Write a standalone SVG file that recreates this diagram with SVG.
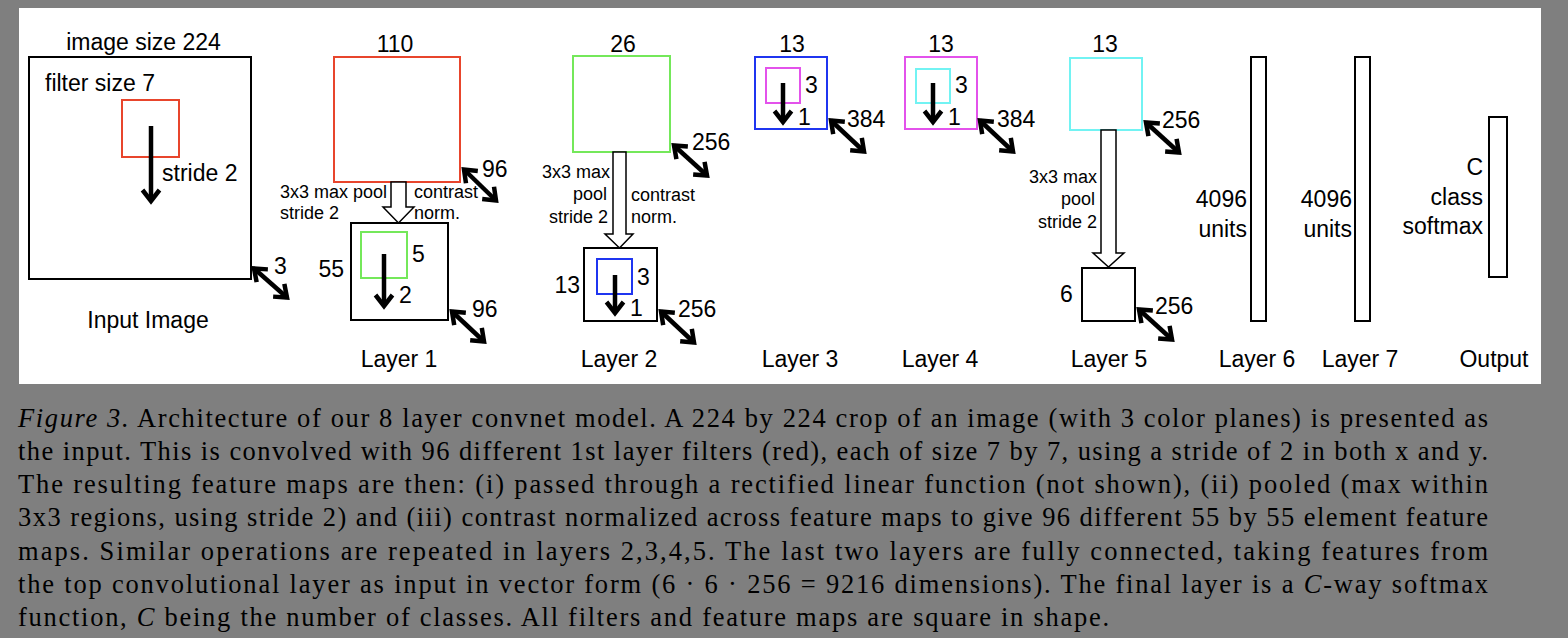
<svg xmlns="http://www.w3.org/2000/svg" width="1568" height="638" viewBox="0 0 1568 638">
<style>
.lb{font-family:"Liberation Sans",Arial,sans-serif;font-size:23px;fill:#000}
.sm{font-family:"Liberation Sans",Arial,sans-serif;font-size:18px;fill:#000}
.cap{font-family:"Liberation Serif","Times New Roman",serif;font-size:26.5px;fill:#000}
.m{text-anchor:middle}
.e{text-anchor:end}
.bx{fill:none;stroke:#000;stroke-width:2}
.fl{fill:none;stroke-width:2}
.arr{stroke:#000;stroke-width:4.5;fill:none;marker-end:url(#hd)}
.dbl{stroke:#000;stroke-width:4.5;fill:none;marker-end:url(#hd);marker-start:url(#hd)}
.blk{fill:#fff;stroke:#000;stroke-width:1.5;stroke-linejoin:miter}
</style>
<defs>
<marker id="hd" markerUnits="userSpaceOnUse" markerWidth="40" markerHeight="40" viewBox="-20 -20 40 40" refX="0" refY="0" orient="auto-start-reverse" overflow="visible">
<path d="M-11,-8.5 L0,0 L-11,8.5" fill="none" stroke="#000" stroke-width="4.5"/>
</marker>
</defs>
<rect x="0" y="0" width="1568" height="638" fill="#7f7f7f"/>
<rect x="19" y="8" width="1522" height="376" fill="#fff"/>

<g id="input">
<rect class="bx" x="29" y="57" width="222" height="222"/>
<rect class="fl" x="122" y="100" width="57" height="57" stroke="#e8452c"/>
<text class="lb m" x="143.5" y="50">image size 224</text>
<text class="lb" x="45" y="91">filter size 7</text>
<text class="lb" x="162" y="181">stride 2</text>
<text class="lb" x="274" y="274">3</text>
<text class="lb m" x="148" y="328">Input Image</text>
</g>

<g id="layer1-conv">
<rect class="fl" x="334" y="57" width="126" height="125" stroke="#e8452c"/>
<text class="lb m" x="395" y="52">110</text>
<text class="lb" x="482" y="177">96</text>
<text class="sm" x="280" y="198">3x3 max pool</text>
<text class="sm" x="280" y="219">stride 2</text>
<text class="sm" x="414" y="198">contrast</text>
<text class="sm" x="414" y="219">norm.</text>
</g>

<g id="layer1">
<rect class="bx" x="351" y="223" width="97" height="97"/>
<rect class="fl" x="361" y="232" width="46" height="46" stroke="#74e85a"/>
<text class="lb e" x="344" y="277">55</text>
<text class="lb" x="412" y="262">5</text>
<text class="lb" x="399" y="303">2</text>
<text class="lb" x="472" y="317">96</text>
<text class="lb m" x="399" y="367">Layer 1</text>
</g>

<g id="layer2-conv">
<rect class="fl" x="573" y="56" width="97" height="96" stroke="#74e85a"/>
<text class="lb m" x="623" y="52">26</text>
<text class="lb" x="692" y="150">256</text>
<text class="sm e" x="610" y="178">3x3 max</text>
<text class="sm e" x="607" y="200">pool</text>
<text class="sm e" x="608" y="223">stride 2</text>
<text class="sm" x="631" y="201">contrast</text>
<text class="sm" x="631" y="223">norm.</text>
</g>

<g id="layer2">
<rect class="bx" x="584" y="248" width="73" height="73"/>
<rect class="fl" x="597" y="259" width="35" height="35" stroke="#1f35f0"/>
<text class="lb e" x="580" y="293">13</text>
<text class="lb" x="637" y="285">3</text>
<text class="lb" x="630" y="316">1</text>
<text class="lb" x="678" y="317">256</text>
<text class="lb m" x="619" y="367">Layer 2</text>
</g>

<g id="layer3">
<rect class="fl" x="755" y="57" width="72" height="72" stroke="#1f35f0"/>
<rect class="fl" x="766" y="68" width="34" height="35" stroke="#e352eb"/>
<text class="lb m" x="792" y="52">13</text>
<text class="lb" x="805" y="93">3</text>
<text class="lb" x="798" y="125">1</text>
<text class="lb" x="847" y="127">384</text>
<text class="lb m" x="800" y="367">Layer 3</text>
</g>

<g id="layer4">
<rect class="fl" x="905" y="57" width="72" height="72" stroke="#e352eb"/>
<rect class="fl" x="916" y="69" width="34" height="34" stroke="#72f3f3"/>
<text class="lb m" x="941" y="52">13</text>
<text class="lb" x="955" y="93">3</text>
<text class="lb" x="948" y="125">1</text>
<text class="lb" x="997" y="127">384</text>
<text class="lb m" x="940" y="367">Layer 4</text>
</g>

<g id="layer5-conv">
<rect class="fl" x="1070" y="58" width="72" height="72" stroke="#72f3f3"/>
<text class="lb m" x="1105" y="52">13</text>
<text class="lb" x="1162" y="128">256</text>
<text class="sm e" x="1097" y="183">3x3 max</text>
<text class="sm e" x="1095" y="205">pool</text>
<text class="sm e" x="1097" y="228">stride 2</text>
</g>

<g id="layer5">
<rect class="bx" x="1082" y="268" width="53" height="53"/>
<text class="lb" x="1060" y="302">6</text>
<text class="lb" x="1155" y="314">256</text>
<text class="lb m" x="1109" y="367">Layer 5</text>
</g>

<g id="layer6">
<rect class="bx" x="1251" y="57" width="15" height="264"/>
<text class="lb e" x="1247" y="207">4096</text>
<text class="lb e" x="1247" y="237">units</text>
<text class="lb m" x="1257" y="367">Layer 6</text>
</g>

<g id="layer7">
<rect class="bx" x="1355" y="57" width="15" height="264"/>
<text class="lb e" x="1352" y="207">4096</text>
<text class="lb e" x="1352" y="237">units</text>
<text class="lb m" x="1360" y="367">Layer 7</text>
</g>

<g id="output">
<rect class="bx" x="1489" y="117" width="18" height="160"/>
<text class="lb e" x="1483" y="175">C</text>
<text class="lb e" x="1483" y="205">class</text>
<text class="lb e" x="1483" y="234">softmax</text>
<text class="lb m" x="1494" y="367">Output</text>
</g>

<g id="connectors">
<line class="arr" x1="151" y1="126" x2="151" y2="201"/>
<line class="arr" x1="384" y1="254" x2="384" y2="306"/>
<line class="arr" x1="615" y1="275" x2="615" y2="313"/>
<line class="arr" x1="783" y1="83" x2="783" y2="122"/>
<line class="arr" x1="933" y1="83" x2="933" y2="122"/>
<line class="dbl" x1="254" y1="268.5" x2="287" y2="297.5"/>
<line class="dbl" x1="464" y1="169.5" x2="496" y2="200.5"/>
<line class="dbl" x1="452" y1="311.5" x2="484" y2="341.5"/>
<line class="dbl" x1="674" y1="145.5" x2="707" y2="175.5"/>
<line class="dbl" x1="661" y1="311.5" x2="694" y2="342.5"/>
<line class="dbl" x1="831" y1="120.5" x2="864" y2="151.5"/>
<line class="dbl" x1="980" y1="120.5" x2="1013" y2="151.5"/>
<line class="dbl" x1="1146" y1="122.5" x2="1179" y2="152.5"/>
<line class="dbl" x1="1139" y1="309.5" x2="1172" y2="339.5"/>
<path class="blk" d="M391,182 L406,182 L406,207 L414,207 L398.5,223 L383,207 L391,207 Z"/>
<path class="blk" d="M613,152 L626,152 L626,234 L633,234 L619.5,248 L605,234 L613,234 Z"/>
<path class="blk" d="M1101,130 L1116,130 L1116,253 L1124,253 L1108.5,267 L1093,253 L1101,253 Z"/>
</g>

<g id="caption">
<text class="cap" x="18" y="427" textLength="1470" lengthAdjust="spacing"><tspan font-style="italic">Figure 3.</tspan> Architecture of our 8 layer convnet model. A 224 by 224 crop of an image (with 3 color planes) is presented as</text>
<text class="cap" x="18" y="460" textLength="1470" lengthAdjust="spacing">the input. This is convolved with 96 different 1st layer filters (red), each of size 7 by 7, using a stride of 2 in both x and y.</text>
<text class="cap" x="18" y="493" textLength="1470" lengthAdjust="spacing">The resulting feature maps are then: (i) passed through a rectified linear function (not shown), (ii) pooled (max within</text>
<text class="cap" x="18" y="526" textLength="1470" lengthAdjust="spacing">3x3 regions, using stride 2) and (iii) contrast normalized across feature maps to give 96 different 55 by 55 element feature</text>
<text class="cap" x="18" y="560" textLength="1470" lengthAdjust="spacing">maps. Similar operations are repeated in layers 2,3,4,5. The last two layers are fully connected, taking features from</text>
<text class="cap" x="18" y="593" textLength="1470" lengthAdjust="spacing">the top convolutional layer as input in vector form (6 · 6 · 256 = 9216 dimensions). The final layer is a <tspan font-style="italic">C</tspan>-way softmax</text>
<text class="cap" x="18" y="626" textLength="1091" lengthAdjust="spacing">function, <tspan font-style="italic">C</tspan> being the number of classes. All filters and feature maps are square in shape.</text>
</g>
</svg>
